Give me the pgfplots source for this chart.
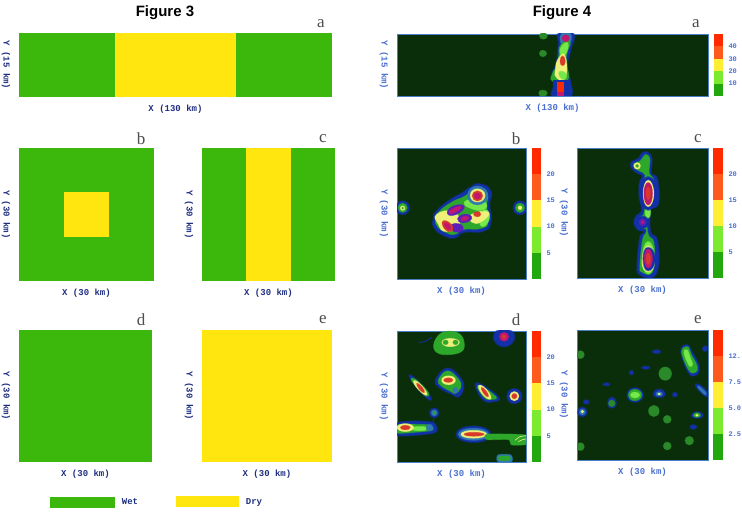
\documentclass[border=0pt]{standalone}
\usepackage{fontspec}
\setmainfont{Liberation Serif}
\setsansfont{Liberation Sans}
\setmonofont{Liberation Mono}
\usepackage{pgfplots}
\pgfplotsset{compat=1.18}
\definecolor{wet}{HTML}{3CB80C}
\definecolor{dry}{HTML}{FFE60F}
\definecolor{bgd}{HTML}{0A2E0A}
\definecolor{navy}{HTML}{1F2F80}
\definecolor{lblue}{HTML}{4A6FD0}
\definecolor{frm}{HTML}{4A7FC8}
\definecolor{cA}{HTML}{22A80E}
\definecolor{cB}{HTML}{7CEB30}
\definecolor{cC}{HTML}{FFEE33}
\definecolor{cD}{HTML}{FF5A1E}
\definecolor{cE}{HTML}{FF2A00}
\definecolor{k1}{HTML}{1230A8}
\definecolor{k2}{HTML}{2F78B0}
\definecolor{k3}{HTML}{2DA82A}
\definecolor{k4}{HTML}{77E84A}
\definecolor{k5}{HTML}{EEF07A}
\definecolor{k6}{HTML}{D83A2A}
\definecolor{k7}{HTML}{C01870}
\definecolor{k8}{HTML}{5A20B8}
\definecolor{k0}{HTML}{2A8A2A}
\pgfplotsset{
  every axis/.append style={scale only axis,xtick=\empty,ytick=\empty,clip=true,
    every axis y label/.style={at={(axis description cs:0,0.5)},anchor=center,xshift=-\ylshift,rotate=-90,font=\ttfamily\bfseries\fontsize{9}{9}\selectfont},
    every axis x label/.style={at={(axis description cs:0.5,0)},anchor=center,yshift=-\xlshift,font=\ttfamily\bfseries\fontsize{9}{9}\selectfont}},
  f3/.style={xmin=0,xmax=30,ymin=0,ymax=30,axis line style={draw=none},
    axis background/.style={fill=wet},xlabel={X (30 km)},ylabel={Y (30 km)},
    xlabel style={text=navy},ylabel style={text=navy}},
  f4/.style={xmin=80,xmax=468,ymin=70,ymax=462,y dir=reverse,
    axis line style={draw=frm,line width=.9pt},
    axis background/.style={fill=bgd},xlabel={X (30 km)},ylabel={Y (30 km)},
    xlabel style={text=lblue},ylabel style={text=lblue}},
  cbar/.style={scale only axis,xmin=0,xmax=1,ymin=0,ymax=25,axis lines=none,clip=true,
    axis line style={draw=none}},
  Z/.style={smooth cycle,tension=1,mark=none,line join=round},
  C0/.style={Z,fill=k0,draw=k0,line width=.8pt,draw opacity=.5},
  C1/.style={Z,fill=k1,draw=k1,line width=1.6pt,draw opacity=.5},
  C2/.style={Z,fill=k2,draw=k2,line width=1pt,draw opacity=.5},
  C3/.style={Z,fill=k3,draw=k3,line width=.8pt,draw opacity=.5},
  C4/.style={Z,fill=k4,draw=k4,line width=.8pt,draw opacity=.5},
  C5/.style={Z,fill=k5,draw=k5,line width=.6pt,draw opacity=.5},
  C6/.style={Z,fill=k6,draw=k6,line width=.6pt,draw opacity=.5},
  C7/.style={Z,fill=k7,draw=k7,line width=.6pt,draw opacity=.5},
  C8/.style={Z,fill=k8,draw=k8,line width=.6pt,draw opacity=.5},
}
\newlength\ylshift \newlength\xlshift
\setlength\ylshift{13pt}\setlength\xlshift{12pt}
\newcommand\B[2]{\addplot[#1] coordinates {#2};}
\newcommand\T[2]{\node[font=\fontsize{17}{17}\selectfont,text=black!70] at (#1pt,{516pt-#2pt}) {#2};}
\newcommand\LT[3]{\node[font=\fontsize{17}{17}\selectfont,text=black!70] at (#1pt,{(516-#2)*1pt}) {#3};}
% colour scale: tick values, labels
\newcommand\CB[7]{%
\begin{axis}[cbar,at={(#1pt,#2pt)},anchor=south west,width=#3pt,height=#4pt,
  ymin=0,ymax=#5,axis lines=none]
\addplot[fill=cA,draw=none] coordinates {(0,0)(1,0)(1,#6)(0,#6)} --cycle;
\end{axis}}
\newcommand\Bar[8]{% x y w h ; labels
\begin{axis}[scale only axis,at={(#1pt,#2pt)},anchor=south west,width=#3pt,height=#4pt,
  xmin=0,xmax=1,ymin=0,ymax=5,axis line style={draw=none},xtick=\empty,
  ytick={1,2,3,4},yticklabels={#5,#6,#7,#8},ytick pos=right,yticklabel pos=right,
  major tick length=0pt,
  yticklabel style={text=lblue,font=\ttfamily\bfseries\fontsize{7}{7}\selectfont,anchor=west,xshift=2pt}]
\addplot[fill=cA,draw=none] coordinates {(0,0)(1,0)(1,1)(0,1)} --cycle;
\addplot[fill=cB,draw=none] coordinates {(0,1)(1,1)(1,2)(0,2)} --cycle;
\addplot[fill=cC,draw=none] coordinates {(0,2)(1,2)(1,3)(0,3)} --cycle;
\addplot[fill=cD,draw=none] coordinates {(0,3)(1,3)(1,4)(0,4)} --cycle;
\addplot[fill=cE,draw=none] coordinates {(0,4)(1,4)(1,5)(0,5)} --cycle;
\end{axis}}
\begin{document}
\begin{tikzpicture}[x=1pt,y=1pt]
\useasboundingbox (0,0) rectangle (742,516);
% ---------- titles
\node[font=\sffamily\bfseries\fontsize{15}{15}\selectfont] at (165,503) {Figure 3};
\node[font=\sffamily\bfseries\fontsize{15}{15}\selectfont] at (562,503) {Figure 4};
% ---------- Figure 3
\begin{axis}[f3,at={(19pt,419pt)},anchor=south west,width=313pt,height=64pt,xmin=0,xmax=130,ymin=0,ymax=15,xlabel={X (130 km)},ylabel={Y (15 km)}]
\addplot[fill=dry,draw=none] coordinates {(40,0)(90,0)(90,15)(40,15)} --cycle;
\end{axis}
\begin{axis}[f3,at={(19pt,235pt)},anchor=south west,width=135pt,height=133pt]
\addplot[fill=dry,draw=none] coordinates {(10,10)(20,10)(20,20)(10,20)} --cycle;
\end{axis}
\begin{axis}[f3,at={(202pt,235pt)},anchor=south west,width=133pt,height=133pt]
\addplot[fill=dry,draw=none] coordinates {(10,0)(20,0)(20,30)(10,30)} --cycle;
\end{axis}
\begin{axis}[f3,at={(19pt,54pt)},anchor=south west,width=133pt,height=132pt]
\end{axis}
\begin{axis}[f3,at={(202pt,54pt)},anchor=south west,width=130pt,height=132pt]
\addplot[fill=dry,draw=none] coordinates {(0,0)(30,0)(30,30)(0,30)} --cycle;
\end{axis}
% ---------- Figure 4 a
\begin{axis}[f4,at={(397pt,420pt)},anchor=south west,width=311pt,height=62pt,xmin=80,xmax=1015,ymin=102,ymax=290,xlabel={X (130 km)},ylabel={Y (15 km)}]
\B{C0}{(508,108)(520,98)(532,108)(520,118)}
\B{C0}{(508,161)(518,151)(530,161)(518,171)}
\B{C0}{(506,281)(518,272)(532,281)(518,292)}
\B{C1}{(566,100)(610,100)(602,150)(592,190)(592,215)(602,250)(600,292)(548,292)(552,255)(546,225)(556,200)(562,170)(566,130)}
\B{C2}{(574,102)(602,102)(596,135)(576,135)}
\B{C3}{(572,135)(600,125)(590,165)(590,190)(592,245)(548,245)(548,220)(560,200)(566,170)}
\B{C4}{(574,140)(594,130)(586,165)(572,165)}
\B{C5}{(566,175)(586,170)(586,235)(560,235)(556,210)}
\B{C6}{(570,185)(578,168)(586,185)(578,198)}
\B{C7}{(576,115)(587,104)(598,115)(587,126)}
\B{C4}{(566,222)(578,215)(590,230)(578,240)}
\B{k1,fill=k1,draw=none}{(548,240)(596,240)(596,292)(548,292)}
\addplot[fill=cE,draw=none] coordinates {(562,248)(583,248)(583,292)(562,292)} --cycle;
\addplot[fill=k7,draw=none] coordinates {(562,278)(583,278)(583,292)(562,292)} --cycle;
\end{axis}
\Bar{714}{420}{9}{62}{10}{20}{30}{40}
% ---------- Figure 4 b
\begin{axis}[f4,at={(397pt,237pt)},anchor=south west,width=129pt,height=131pt]
\B{C1}{(77,249)(97,229)(117,249)(97,269)}
\B{C3}{(83,249)(97,235)(111,249)(97,263)}
\B{C5}{(90,250)(97,243)(104,250)(97,257)}
\B{C3}{(94,250)(97,247)(100,250)(97,253)}
\B{C1}{(430,249)(450,229)(470,249)(450,269)}
\B{C3}{(436,249)(450,235)(464,249)(450,263)}
\B{C5}{(444,249)(450,243)(456,249)(450,255)}
\B{C1}{(190,280)(200,258)(240,225)(275,205)(300,188)(330,178)(362,200)(358,240)(362,290)(340,318)(282,322)(255,338)(222,332)(192,308)}
\B{C3}{(198,280)(205,262)(245,232)(282,215)(305,198)(330,190)(352,205)(350,245)(354,288)(335,310)(280,314)(255,328)(226,322)(200,302)}
\B{C4}{(282,232)(310,225)(345,232)(340,255)(300,250)}
\B{C4}{(335,262)(356,262)(352,295)(330,300)}
\B{C5}{(200,268)(250,262)(268,300)(228,320)(204,298)}
\B{C5}{(305,268)(355,262)(335,290)(305,292)}
\B{C2}{(292,212)(322,184)(352,212)(322,240)}
\B{C5}{(300,212)(322,192)(345,212)(322,232)}
\B{C6}{(306,213)(322,198)(338,213)(322,229)}
\B{C7}{(312,213)(322,204)(332,213)(322,223)}
\B{C8}{(232,258)(262,240)(282,250)(248,272)}
\B{C7}{(238,258)(262,246)(272,250)(246,266)}
\B{C8}{(262,282)(285,268)(305,280)(280,294)}
\B{C7}{(272,282)(285,274)(296,280)(282,288)}
\B{C8}{(240,305)(262,296)(280,310)(258,322)}
\B{C6}{(216,298)(228,288)(248,308)(234,320)}
\B{C7}{(222,300)(230,294)(242,308)(234,314)}
\B{C6}{(310,268)(322,260)(332,268)(322,276)}
\end{axis}
\Bar{532}{237}{9}{131}{5}{10}{15}{20}
% ---------- Figure 4 c
\begin{axis}[f4,at={(577pt,238pt)},anchor=south west,width=131pt,height=130pt,xmin=52,xmax=444,ymin=68,ymax=460]
\B{C1,tension=.7}{(262,80)(276,100)(274,145)(292,160)(296,235)(272,252)(270,275)(270,310)(276,330)(292,345)(296,420)(278,458)(240,450)(232,425)(240,340)(252,325)(252,318)(236,316)(222,295)(230,272)(244,262)(244,240)(238,180)(248,152)(235,145)(216,130)(214,112)(236,100)(246,84)}
\B{C3,tension=.7}{(260,88)(270,102)(268,145)(282,165)(284,230)(266,248)(262,278)(262,310)(268,335)(282,352)(284,415)(272,448)(246,442)(240,425)(248,345)(258,325)(258,312)(240,308)(232,295)(238,278)(252,268)(252,240)(246,180)(256,150)(240,138)(224,128)(222,115)(240,108)(252,92)}
\B{C5}{(222,122)(232,112)(242,122)(232,132)}
\B{C3}{(227,122)(232,117)(237,122)(232,127)}
\B{C4}{(256,262)(264,240)(272,262)(264,280)}
\B{C1}{(238,205)(265,155)(292,205)(265,255)}
\B{C5}{(250,205)(265,165)(282,205)(265,245)}
\B{C7}{(252,205)(265,172)(278,205)(265,240)}
\B{C6}{(258,205)(265,185)(272,205)(265,225)}
\B{C1}{(230,292)(248,274)(266,292)(248,310)}
\B{C8}{(237,292)(248,281)(259,292)(248,303)}
\B{C7}{(243,292)(248,287)(253,292)(248,297)}
\B{C4}{(248,400)(265,350)(284,400)(265,448)}
\B{C5}{(246,410)(265,362)(284,410)(265,442)}
\B{C1}{(250,402)(265,368)(286,402)(265,438)}
\B{C7}{(253,402)(265,372)(278,402)(265,430)}
\B{C6}{(259,402)(265,385)(272,402)(265,420)}
\end{axis}
\Bar{713}{238}{10}{130}{5}{10}{15}{20}
% ---------- Figure 4 d
\begin{axis}[f4,at={(397pt,54pt)},anchor=south west,width=129pt,height=131pt,xmin=80,xmax=468,ymin=63,ymax=455]
\B{C3,tension=.7}{(190,105)(215,68)(262,68)(282,97)(270,127)(210,132)}
\B{C5}{(215,97)(240,85)(268,97)(240,110)}
\B{C3}{(218,97)(226,90)(234,97)(226,104)}
\B{C3}{(248,97)(256,90)(264,97)(256,104)}
\B{C1}{(370,80)(402,58)(434,80)(402,110)}
\B{C7}{(388,80)(402,67)(416,80)(402,94)}
\B{C6}{(396,80)(402,74)(408,80)(402,86)}
\addplot[k1,line width=.8pt] coordinates {(145,98)(165,94)(185,82)};
\B{C1,tension=.7}{(196,210)(232,174)(272,205)(280,235)(264,260)(245,252)(210,234)}
\B{C3,tension=.7}{(204,210)(232,182)(266,208)(272,232)(256,250)(242,244)(214,228)}
\B{C2}{(248,240)(256,232)(264,240)(256,248)}
\B{C5}{(214,210)(235,197)(256,210)(235,224)}
\B{C6}{(220,210)(235,203)(248,210)(235,217)}
\B{C1}{(122,208)(132,203)(178,255)(168,262)}
\B{C3,tension=.7}{(124,212)(136,208)(174,246)(164,256)}
\B{C5}{(132,222)(140,214)(168,245)(160,252)}
\B{C6}{(140,226)(145,221)(162,241)(156,246)}
\B{C1,tension=.7}{(316,228)(332,222)(386,262)(370,274)(340,270)}
\B{C3,tension=.7}{(322,232)(334,228)(378,260)(366,268)(344,264)}
\B{C5}{(326,235)(338,228)(362,258)(350,264)}
\B{C6}{(334,238)(340,234)(355,254)(348,258)}
\B{C1}{(411,258)(433,236)(455,258)(433,280)}
\B{C5}{(419,258)(433,244)(447,258)(433,272)}
\B{C6}{(425,258)(433,250)(441,258)(433,266)}
\B{C1}{(178,308)(192,294)(206,308)(192,322)}
\B{C2}{(183,308)(192,299)(201,308)(192,317)}
\B{C3}{(188,308)(192,304)(196,308)(192,312)}
\addplot[k1,line width=.8pt] coordinates {(192,320)(188,335)(180,345)};
\B{C1,tension=.5}{(78,340)(130,333)(190,338)(197,365)(140,374)(78,374)}
\B{C3,tension=.5}{(78,345)(130,342)(180,345)(186,360)(135,366)(78,368)}
\B{C4,tension=.5}{(130,350)(165,350)(165,360)(130,360)}
\B{C5}{(80,352)(105,340)(130,352)(105,364)}
\B{C6}{(90,352)(105,345)(120,352)(105,359)}
\B{C2}{(168,352)(178,342)(188,352)(178,362)}
\B{C1}{(258,372)(310,348)(362,372)(310,396)}
\B{C2}{(264,372)(310,354)(356,372)(310,390)}
\B{C5}{(272,372)(310,360)(350,372)(310,384)}
\B{C6}{(282,372)(310,366)(342,372)(310,378)}
\B{C3,tension=.4}{(350,372)(440,372)(470,376)(470,402)(425,404)(415,388)(350,388)}
\B{k5,fill=k5,draw=k5,smooth,tension=.6,line width=.6pt,fill opacity=0}{(436,390)(448,380)(470,376)}
\B{k5,fill=k5,draw=k5,smooth,tension=.6,line width=.6pt,fill opacity=0}{(445,394)(458,388)(470,386)}
\B{C2,tension=.5}{(384,434)(422,434)(424,454)(384,454)}
\B{C3,tension=.5}{(388,438)(418,438)(418,450)(388,450)}
\end{axis}
\Bar{532}{54}{9}{131}{5}{10}{15}{20}
% ---------- Figure 4 e
\begin{axis}[f4,at={(577pt,56pt)},anchor=south west,width=131pt,height=130pt,xmin=52,xmax=444,ymin=62,ymax=452]
\B{C0}{(50,136)(62,124)(74,136)(62,148)}
\B{C0}{(50,412)(62,400)(74,412)(62,424)}
\B{C0}{(297,193)(316,173)(335,193)(316,213)}
\B{C1}{(144,282)(156,264)(170,282)(156,296)}
\B{C0}{(146,282)(156,272)(166,282)(156,292)}
\B{C0}{(266,305)(282,288)(298,305)(282,322)}
\B{C0}{(310,330)(322,318)(334,330)(322,342)}
\B{C0}{(310,410)(322,398)(334,410)(322,422)}
\B{C0}{(375,394)(388,381)(401,394)(388,407)}
\B{C1}{(202,257)(225,236)(250,257)(225,278)}
\B{C3}{(206,257)(225,240)(246,257)(225,274)}
\B{C4}{(212,257)(225,248)(240,257)(225,266)}
\B{k1,fill=k1,draw=k1,Z,draw opacity=.5,line width=.8pt,tension=.7}{(362,125)(382,106)(398,130)(418,172)(408,198)(385,190)}
\B{C3,tension=.7}{(365,128)(383,112)(394,135)(412,172)(405,190)(386,182)}
\B{C4,tension=.7}{(372,130)(382,122)(392,148)(398,165)(388,170)}
\B{C1,tension=.7}{(408,232)(416,225)(442,248)(438,262)}
\B{C2,tension=.7}{(414,235)(418,231)(438,250)(434,256)}
\B{C1}{(394,319)(411,308)(430,319)(411,326)}
\B{C3}{(400,318)(411,310)(422,318)(411,324)}
\B{k5,fill=k5,Z}{(407,318)(411,315)(415,318)(411,321)}
\B{C1}{(280,254)(298,240)(316,254)(298,264)}
\B{C2}{(288,254)(298,247)(308,254)(298,260)}
\B{k5,fill=k5,Z}{(294,254)(298,251)(302,254)(298,257)}
\B{C1}{(54,308)(68,294)(82,308)(68,322)}
\B{C2}{(59,308)(68,299)(77,308)(68,317)}
\B{k5,fill=k5,Z}{(64,307)(68,303)(72,307)(68,311)}
\B{C1}{(278,127)(290,122)(302,127)(290,132)}
\B{C1}{(246,175)(258,171)(270,175)(258,179)}
\B{C1}{(209,190)(215,184)(221,190)(215,196)}
\B{C1}{(130,225)(140,221)(150,225)(140,229)}
\B{C1}{(338,256)(345,250)(352,256)(345,262)}
\B{C1}{(390,353)(400,347)(410,353)(400,359)}
\B{C1}{(72,278)(80,272)(88,278)(80,284)}
\B{C1}{(428,118)(435,110)(442,118)(435,126)}
\end{axis}
\Bar{713}{56}{10}{130}{2.5}{5.0}{7.5}{12.}
% ---------- panel letters
\node[font=\fontsize{17}{17}\selectfont,text=black!70] at (321,492) {a};
\node[font=\fontsize{17}{17}\selectfont,text=black!70] at (141,377) {b};
\node[font=\fontsize{17}{17}\selectfont,text=black!70] at (323,377) {c};
\node[font=\fontsize{17}{17}\selectfont,text=black!70] at (141,196) {d};
\node[font=\fontsize{17}{17}\selectfont,text=black!70] at (323,196) {e};
\node[font=\fontsize{17}{17}\selectfont,text=black!70] at (696,492) {a};
\node[font=\fontsize{17}{17}\selectfont,text=black!70] at (516,377) {b};
\node[font=\fontsize{17}{17}\selectfont,text=black!70] at (698,377) {c};
\node[font=\fontsize{17}{17}\selectfont,text=black!70] at (516,196) {d};
\node[font=\fontsize{17}{17}\selectfont,text=black!70] at (698,196) {e};
% ---------- key
\fill[wet] (50,8) rectangle (115,19);
\fill[dry] (176,9) rectangle (239,20);
\node[font=\ttfamily\bfseries\fontsize{9}{9}\selectfont,text=navy] at (130,14) {Wet};
\node[font=\ttfamily\bfseries\fontsize{9}{9}\selectfont,text=navy] at (254,14) {Dry};
\end{tikzpicture}
\end{document}
